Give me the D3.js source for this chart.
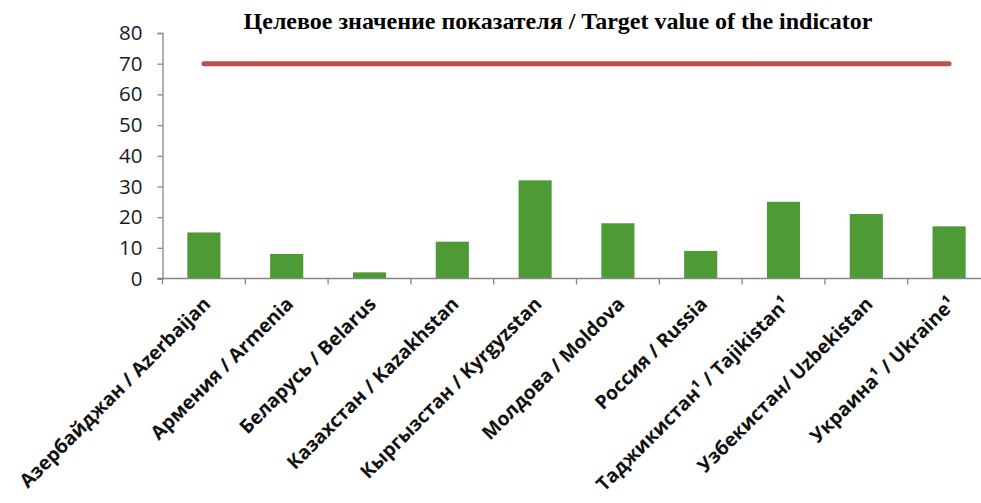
<!DOCTYPE html>
<html>
<head>
<meta charset="utf-8">
<script src="https://cdn.jsdelivr.net/npm/d3@7"></script>
<style>
  body { margin: 0; background: #fff; }
  svg { display: block; }
</style>
</head>
<body>
<svg id="chart"></svg>
<script>
// Country categories (RU / EN) and values
const categories = [
  'Азербайджан / Azerbaijan',
  'Армения / Armenia',
  'Беларусь / Belarus',
  'Казахстан / Kazakhstan',
  'Кыргызстан / Kyrgyzstan',
  'Молдова / Moldova',
  'Россия / Russia',
  'Таджикистан¹ / Tajikistan¹',
  'Узбекистан/ Uzbekistan',
  'Украина¹ / Ukraine¹'
];
const values = [15, 8, 2, 12, 32, 18, 9, 25, 21, 17];
const targetValue = 70;
const yTicks = [0, 10, 20, 30, 40, 50, 60, 70, 80];
const titleText = 'Целевое значение показателя / Target value of the indicator';

const width = 981;
const height = 503;

const svg = d3.select('#chart')
  .attr('width', width)
  .attr('height', height);

const margin = { top: 33, left: 162.5, bottom: 278.5, right: 990.5 };

const x = d3.scaleBand()
  .domain(categories)
  .range([margin.left, margin.right])
  .paddingInner(0.6)
  .paddingOuter(0.3);

const y = d3.scaleLinear()
  .domain([0, 80])
  .range([margin.bottom, margin.top]);

// Bars
svg.append('g')
  .selectAll('rect')
  .data(values)
  .enter().append('rect')
  .attr('x', (d, i) => x(categories[i]))
  .attr('y', d => y(d))
  .attr('width', x.bandwidth())
  .attr('height', d => y(0) - y(d))
  .attr('fill', '#4e9a35');

// Target line, from first category centre to last
const firstC = x(categories[0]) + x.bandwidth() / 2;
const lastC = x(categories[categories.length - 1]) + x.bandwidth() / 2;
svg.append('line')
  .attr('x1', firstC)
  .attr('x2', lastC)
  .attr('y1', y(targetValue))
  .attr('y2', y(targetValue))
  .attr('stroke', '#c0504d')
  .attr('stroke-width', 5)
  .attr('stroke-linecap', 'round');

// Y axis
const yAxis = svg.append('g')
  .attr('transform', `translate(${margin.left},0)`)
  .call(d3.axisLeft(y).tickValues(yTicks).tickSize(5).tickPadding(15));
yAxis.select('.domain').attr('stroke', '#868686').attr('stroke-width', 1.3);
yAxis.selectAll('.tick line').attr('stroke', '#868686').attr('stroke-width', 1.3);
yAxis.selectAll('.tick text')
  .attr('fill', '#1a1a1a')
  .style('font-family', '"Open Sans", sans-serif')
  .style('font-size', '20.5px');

// X axis baseline with boundary ticks
const boundaries = d3.range(categories.length + 1).map(i => margin.left + i * (margin.right - margin.left) / categories.length);
const xAxis = svg.append('g');
xAxis.append('line')
  .attr('x1', margin.left - 5)
  .attr('x2', margin.right)
  .attr('y1', y(0))
  .attr('y2', y(0))
  .attr('stroke', '#868686')
  .attr('stroke-width', 1.3);
xAxis.selectAll('line.bt')
  .data(boundaries)
  .enter().append('line')
  .attr('class', 'bt')
  .attr('x1', d => d)
  .attr('x2', d => d)
  .attr('y1', y(0))
  .attr('y2', y(0) + 6)
  .attr('stroke', '#868686')
  .attr('stroke-width', 1.3);

// Rotated category labels
xAxis.selectAll('text')
  .data(categories)
  .enter().append('text')
  .attr('transform', d => `translate(${x(d) + x.bandwidth() / 2 + 3},${y(0) + 22}) rotate(-45)`)
  .attr('text-anchor', 'end')
  .attr('dy', '0.35em')
  .style('font-family', '"Open Sans", sans-serif')
  .style('font-weight', 'bold')
  .style('font-size', '19.3px')
  .attr('fill', '#111')
  .text(d => d);

// Title
svg.append('text')
  .attr('x', 558)
  .attr('y', 29)
  .attr('text-anchor', 'middle')
  .style('font-family', '"Liberation Serif", "Times New Roman", serif')
  .style('font-weight', 'bold')
  .style('font-size', '24px')
  .text(titleText);
</script>
</body>
</html>
